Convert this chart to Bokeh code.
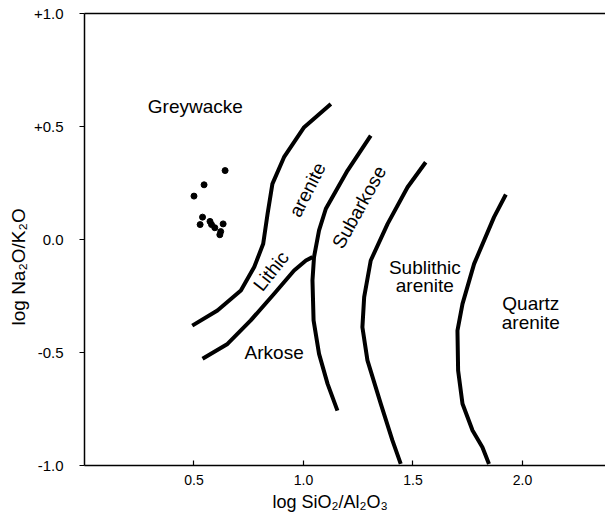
import math
from bokeh.plotting import figure
from bokeh.models import ColumnDataSource, FixedTicker, LinearAxis, Title
from bokeh.core.properties import value
from bokeh.embed import file_html
from bokeh.resources import INLINE

# ---------------- data ----------------
sample_x = [0.642, 0.546, 0.500, 0.539, 0.528, 0.573, 0.580, 0.595, 0.633, 0.622, 0.618]
sample_y = [0.305, 0.242, 0.192, 0.099, 0.066, 0.080, 0.066, 0.052, 0.069, 0.035, 0.021]

greywacke_lithic_x = [0.492, 0.607, 0.714, 0.775, 0.816, 0.836, 0.858, 0.911, 1.003, 1.125]
greywacke_lithic_y = [-0.381, -0.314, -0.226, -0.122, -0.019, 0.114, 0.246, 0.364, 0.497, 0.600]

lithic_arkose_x = [0.539, 0.653, 0.759, 0.866, 0.957, 1.011, 1.041]
lithic_arkose_y = [-0.528, -0.462, -0.358, -0.240, -0.137, -0.093, -0.078]

subarkose_left_x = [1.307, 1.201, 1.102, 1.071, 1.048, 1.041, 1.046, 1.071, 1.110, 1.155]
subarkose_left_y = [0.460, 0.305, 0.136, 0.040, -0.078, -0.181, -0.358, -0.506, -0.639, -0.757]

subarkose_sublithic_x = [1.558, 1.475, 1.384, 1.307, 1.277, 1.269, 1.292, 1.353, 1.406, 1.444]
subarkose_sublithic_y = [0.342, 0.231, 0.069, -0.093, -0.255, -0.388, -0.535, -0.727, -0.889, -0.993]

sublithic_quartz_x = [1.924, 1.870, 1.779, 1.726, 1.703, 1.706, 1.726, 1.772, 1.817, 1.847]
sublithic_quartz_y = [0.199, 0.099, -0.108, -0.285, -0.403, -0.580, -0.727, -0.845, -0.919, -0.993]

x_ticks = [0.5, 1.0, 1.5, 2.0]
x_tick_labels = ["0.5", "1.0", "1.5", "2.0"]
y_ticks = [-1.0, -0.5, 0.0, 0.5, 1.0]
y_tick_labels = ["-1.0", "-0.5", "0.0", "+0.5", "+1.0"]

field_names = ["Greywacke", "Lithic", "arenite", "Subarkose", "Arkose",
               "Sublithic", "arenite", "Quartz", "arenite"]

x_title = "log SiO\u2082/Al\u2082O\u2083"
y_title = "log Na\u2082O/K\u2082O"

# ---------------- figure ----------------
FONT = "Liberation Sans"

p = figure(width=605, height=520, x_range=(0, 2.379), y_range=(-1.0, 1.0),
           toolbar_location=None, output_backend="svg",
           min_border_left=84, min_border_right=0, min_border_top=13,
           min_border_bottom=55)
p.xgrid.visible = False
p.ygrid.visible = False
p.outline_line_color = None
p.background_fill_color = "white"
p.border_fill_color = "white"

xa = p.xaxis[0]
xa.ticker = FixedTicker(ticks=x_ticks)
xa.major_label_overrides = {t: l for t, l in zip(x_ticks, x_tick_labels)}
xa.major_tick_in = 5
xa.major_tick_out = 0
xa.minor_tick_in = 0
xa.minor_tick_out = 0
xa.axis_line_width = 1.5
xa.major_tick_line_width = 1.2
xa.axis_line_color = "black"
xa.major_tick_line_color = "black"
xa.major_label_text_font = FONT
xa.major_label_text_font_size = "14px"
xa.major_label_text_color = "black"
xa.major_label_standoff = 9

ya = p.yaxis[0]
ya.ticker = FixedTicker(ticks=y_ticks)
ya.major_label_overrides = {t: l for t, l in zip(y_ticks, y_tick_labels)}
ya.major_tick_in = 0
ya.major_tick_out = 5
ya.minor_tick_in = 0
ya.minor_tick_out = 0
ya.axis_line_width = 1.5
ya.major_tick_line_width = 1.2
ya.axis_line_color = "black"
ya.major_tick_line_color = "black"
ya.major_label_text_font = FONT
ya.major_label_text_font_size = "15px"
ya.major_label_text_color = "black"
ya.major_label_standoff = 16

top = LinearAxis(ticker=FixedTicker(ticks=[]), major_tick_in=0, major_tick_out=0,
                 minor_tick_in=0, minor_tick_out=0, major_label_text_font_size="0px",
                 axis_line_width=1.5, axis_line_color="black")
p.add_layout(top, "above")

# boundary curves
curves = [
    (greywacke_lithic_x, greywacke_lithic_y),
    (lithic_arkose_x, lithic_arkose_y),
    (subarkose_left_x, subarkose_left_y),
    (subarkose_sublithic_x, subarkose_sublithic_y),
    (sublithic_quartz_x, sublithic_quartz_y),
]
for cx, cy in curves:
    p.line(cx, cy, line_width=4, line_color="black", line_join="round", line_cap="butt")

# samples
p.scatter(sample_x, sample_y, size=6, color="black")

# field labels
lab_x = [0.289, 0.852, 1.018, 1.254, 0.866, 1.554, 1.554, 2.038, 2.038]
lab_y = [0.588, -0.140, 0.220, 0.143, -0.499, -0.122, -0.204, -0.283, -0.369]
lab_ang = [0, 52, 63, 61, 0, 0, 0, 0, 0]
lab_align = ["left", "center", "center", "center", "center", "center", "center", "center", "center"]
src = ColumnDataSource(dict(x=lab_x, y=lab_y, text=field_names,
                            angle=[math.radians(a) for a in lab_ang], align=lab_align))
p.text(x="x", y="y", text="text", angle="angle", source=src,
       text_align="align", text_baseline="middle",
       text_font=value(FONT), text_font_size="19px", text_color="black")

# axis titles
xt = Title(text=x_title, align="left", offset=188, text_font=FONT, text_font_size="18px",
           text_font_style="normal", text_color="black", standoff=4)
p.add_layout(xt, "below")
yt = Title(text=y_title, align="left", offset=140, text_font=FONT, text_font_size="19px",
           text_font_style="normal", text_color="black", standoff=4)
p.add_layout(yt, "left")

open("out.html", "w").write(file_html(p, INLINE))
